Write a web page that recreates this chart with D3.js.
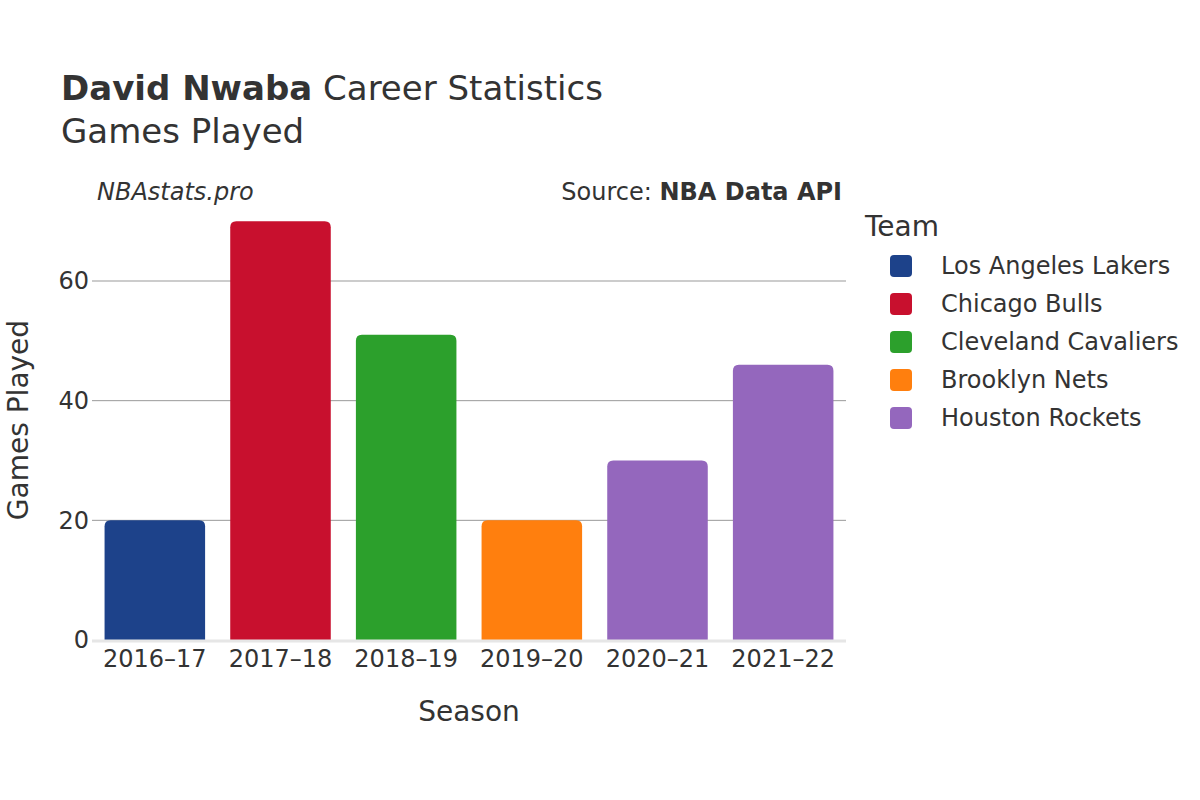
<!DOCTYPE html>
<html><head><meta charset="utf-8">
<script src="https://cdn.jsdelivr.net/npm/d3@7"></script>
<style>body{margin:0;background:#fff;}svg{font-family:"DejaVu Sans",sans-serif;}</style>
</head><body><svg id="c" width="1200" height="800"></svg>
<script>
const seasons = ["2016–17","2017–18","2018–19","2019–20","2020–21","2021–22"];
const teams = ["Los Angeles Lakers","Chicago Bulls","Cleveland Cavaliers","Brooklyn Nets","Houston Rockets","Houston Rockets"];
const gamesPlayed = [20,70,51,20,30,46];
const legendTeams = ["Los Angeles Lakers","Chicago Bulls","Cleveland Cavaliers","Brooklyn Nets","Houston Rockets"];
const teamColors = ["#1d428a","#c8102e","#2ca02c","#ff7f0e","#9467bd"];
const yTicks = [0,20,40,60];

const svg = d3.select("#c");
const color = d3.scaleOrdinal().domain(legendTeams).range(teamColors);
const x = d3.scaleBand().domain(seasons).range([92,846]).paddingInner(0.2).paddingOuter(0.1);
const y = d3.scaleLinear().domain([0,60]).range([640,281]);
const txt = "#333";

// grid
svg.append("g").selectAll("line").data(yTicks.filter(d=>d>0)).join("line")
  .attr("x1",92).attr("x2",846).attr("y1",d=>y(d)).attr("y2",d=>y(d))
  .attr("stroke","#999").attr("stroke-width",1);

// bars with rounded top
const r = 6;
function barPath(d,i){
  const x0 = x(seasons[i]), w = x.bandwidth(), y0 = y(d), y1 = y(0);
  return `M${x0},${y1}V${y0+r}Q${x0},${y0} ${x0+r},${y0}H${x0+w-r}Q${x0+w},${y0} ${x0+w},${y0+r}V${y1}Z`;
}
svg.append("g").selectAll("path").data(gamesPlayed).join("path")
  .attr("d",barPath).attr("fill",(d,i)=>color(teams[i]));

// zero line
svg.append("line").attr("x1",92).attr("x2",846).attr("y1",y(0)+1).attr("y2",y(0)+1)
  .attr("stroke","#e6e6e6").attr("stroke-width",3);

// y tick labels
svg.append("g").selectAll("text").data(yTicks).join("text")
  .attr("x",89).attr("y",d=>y(d)).attr("dy","0.35em").attr("text-anchor","end")
  .attr("font-size",24).attr("fill",txt).text(d=>d);

// x tick labels
svg.append("g").selectAll("text").data(seasons).join("text")
  .attr("x",d=>x(d)+x.bandwidth()/2).attr("y",667).attr("text-anchor","middle")
  .attr("font-size",24).attr("fill",txt).text(d=>d);

// titles
const t = svg.append("text").attr("x",61).attr("y",100).attr("font-size",34).attr("fill",txt);
t.append("tspan").attr("font-weight","bold").text("David Nwaba");
t.append("tspan").text(" Career Statistics");
svg.append("text").attr("x",61).attr("y",143).attr("font-size",34).attr("fill",txt).text("Games Played");
svg.append("text").attr("x",97).attr("y",200).attr("font-size",24).attr("font-style","italic").attr("fill",txt).text("NBAstats.pro");
const s = svg.append("text").attr("x",842).attr("y",200).attr("font-size",24).attr("text-anchor","end").attr("fill",txt);
s.append("tspan").text("Source: ");
s.append("tspan").attr("font-weight","bold").text("NBA Data API");

// axis titles
svg.append("text").attr("x",469).attr("y",721).attr("text-anchor","middle").attr("font-size",28).attr("fill",txt).text("Season");
svg.append("text").attr("transform","translate(18,420) rotate(-90)").attr("text-anchor","middle").attr("dy","0.35em").attr("font-size",28).attr("fill",txt).text("Games Played");

// legend
svg.append("text").attr("x",865).attr("y",236).attr("font-size",28).attr("fill",txt).text("Team");
const lg = svg.append("g").selectAll("g").data(legendTeams).join("g")
  .attr("transform",(d,i)=>`translate(0,${266+i*38})`);
lg.append("rect").attr("x",890).attr("y",-11).attr("width",22).attr("height",22).attr("rx",4).attr("fill",d=>color(d));
lg.append("text").attr("x",941).attr("dy","0.35em").attr("font-size",24).attr("fill",txt).text(d=>d);
</script></body></html>
